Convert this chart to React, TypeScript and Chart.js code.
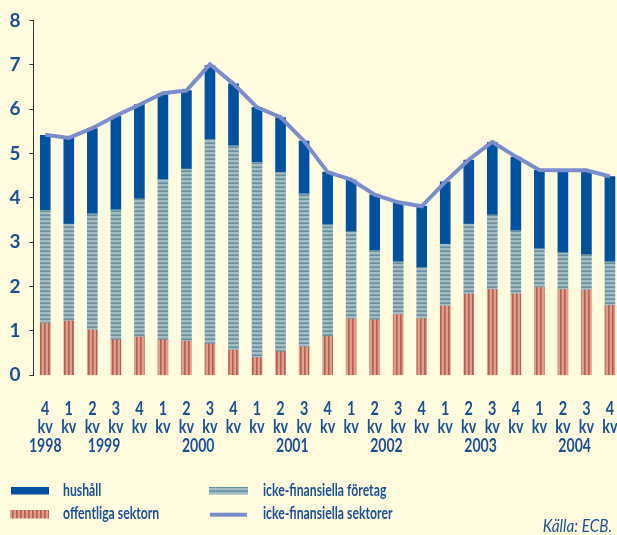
import React, { useEffect, useRef } from 'react';
import { Chart, registerables } from 'chart.js';

Chart.register(...registerables);

// ---- data ----
const quarterLabels = ['4', '1', '2', '3', '4', '1', '2', '3', '4', '1', '2', '3', '4', '1', '2', '3', '4', '1', '2', '3', '4', '1', '2', '3', '4'];
const yearOfBar = [1998, 1999, 1999, 1999, 1999, 2000, 2000, 2000, 2000, 2001, 2001, 2001, 2001, 2002, 2002, 2002, 2002, 2003, 2003, 2003, 2003, 2004, 2004, 2004, 2004];
const yearLabels = ['1998', '1999', '2000', '2001', '2002', '2003', '2004'];
const kvLabel = 'kv';
const yTicks = [0, 1, 2, 3, 4, 5, 6, 7, 8];

const offentliga = [1.17, 1.22, 1.02, 0.80, 0.86, 0.80, 0.77, 0.71, 0.57, 0.40, 0.53, 0.64, 0.87, 1.27, 1.25, 1.37, 1.28, 1.56, 1.83, 1.93, 1.83, 1.98, 1.93, 1.92, 1.58];
const foretag = [2.55, 2.19, 2.62, 2.93, 3.12, 3.62, 3.88, 4.61, 4.60, 4.40, 4.04, 3.45, 2.52, 1.97, 1.56, 1.19, 1.15, 1.39, 1.58, 1.69, 1.43, 0.87, 0.83, 0.80, 0.98];
const hushall = [1.69, 1.93, 1.92, 2.11, 2.12, 1.93, 1.77, 1.66, 1.40, 1.24, 1.24, 1.19, 1.19, 1.16, 1.26, 1.33, 1.38, 1.41, 1.44, 1.63, 1.66, 1.77, 1.83, 1.87, 1.92];
const sektorer = [5.42, 5.35, 5.57, 5.85, 6.10, 6.36, 6.42, 7.01, 6.57, 6.04, 5.82, 5.28, 4.58, 4.41, 4.07, 3.90, 3.81, 4.36, 4.86, 5.26, 4.93, 4.63, 4.62, 4.62, 4.48];

const legendLabels = ['hushåll', 'offentliga sektorn', 'icke-finansiella företag', 'icke-finansiella sektorer'];
const sourceLabel = 'Källa: ECB.';

// ---- styles ----
const BG = '#FFFCE0';
const TEXT = '#1C5096';
const BLUE = '#00519F';
const LINE = '#7B8ECB';
const FONT = 'Lato, "DejaVu Sans", sans-serif';

function makeRedPattern(): CanvasPattern | string {
  const c = document.createElement('canvas');
  c.width = 4; c.height = 4;
  const g = c.getContext('2d');
  if (!g) return '#c98070';
  const cols = ['#B85E50', '#C77566', '#DDA08E', '#DDA08E'];
  cols.forEach((col, i) => { g.fillStyle = col; g.fillRect(i, 0, 1, 4); });
  return g.createPattern(c, 'repeat') || '#c98070';
}

function makeTealPattern(): CanvasPattern | string {
  const c = document.createElement('canvas');
  c.width = 4; c.height = 4;
  const g = c.getContext('2d');
  if (!g) return '#8fb0b9';
  const cols = ['#A2BDC4', '#A2BDC4', '#7FA2AE', '#64909F'];
  cols.forEach((col, i) => { g.fillStyle = col; g.fillRect(0, i, 4, 1); });
  return g.createPattern(c, 'repeat') || '#8fb0b9';
}

function drawText(ctx: CanvasRenderingContext2D, s: string, x: number, y: number, align: CanvasTextAlign, font: string, sx: number) {
  ctx.save();
  ctx.font = font;
  ctx.fillStyle = TEXT;
  ctx.textAlign = align;
  ctx.textBaseline = 'alphabetic';
  ctx.translate(x, y);
  ctx.scale(sx, 1);
  ctx.fillText(s, 0, 0);
  ctx.restore();
}

export default function App() {
  const ref = useRef<HTMLCanvasElement | null>(null);

  useEffect(() => {
    const canvas = ref.current;
    if (!canvas) return;
    const red = makeRedPattern();
    const teal = makeTealPattern();

    const pts = (arr: number[]) => arr.map((v, i) => ({ x: i, y: v }));

    const bgPlugin = {
      id: 'bg',
      beforeDraw(chart: any) {
        const ctx = chart.ctx;
        ctx.save();
        ctx.fillStyle = BG;
        ctx.fillRect(0, 0, chart.width, chart.height);
        ctx.restore();
      },
    };

    const labelsPlugin = {
      id: 'labels',
      afterDraw(chart: any) {
        const ctx: CanvasRenderingContext2D = chart.ctx;
        const xs = chart.scales.x;
        const bold = `bold 17px ${FONT}`;
        const boldL = `bold 18px ${FONT}`;
        // quarter + kv labels
        quarterLabels.forEach((q, i) => {
          const px = xs.getPixelForValue(i);
          drawText(ctx, q, px, 415, 'center', boldL, 0.8);
          drawText(ctx, kvLabel, px, 433, 'center', boldL, 0.8);
        });
        // years
        yearLabels.forEach((y) => {
          const idx: number[] = [];
          yearOfBar.forEach((yy, i) => { if (String(yy) === y) idx.push(i); });
          if (!idx.length) return;
          const mid = idx.reduce((a, b) => a + b, 0) / idx.length;
          const px = xs.getPixelForValue(mid);
          drawText(ctx, y, px, 451.5, 'center', boldL, 0.78);
        });
        // legend
        ctx.save();
        ctx.fillStyle = BLUE;
        ctx.fillRect(11, 487, 38, 7.5);
        ctx.fillStyle = red as any;
        ctx.fillRect(10, 510, 39, 8.5);
        ctx.fillStyle = teal as any;
        ctx.fillRect(209, 487, 39, 7.5);
        ctx.fillStyle = LINE;
        ctx.fillRect(210, 512.7, 37, 4);
        ctx.restore();
        drawText(ctx, legendLabels[0], 63, 495.5, 'left', bold, 0.72);
        drawText(ctx, legendLabels[1], 63, 518.5, 'left', bold, 0.72);
        drawText(ctx, legendLabels[2], 263, 495.5, 'left', bold, 0.72);
        drawText(ctx, legendLabels[3], 263, 518.5, 'left', bold, 0.72);
        drawText(ctx, sourceLabel, 612, 532, 'right', `italic 17px ${FONT}`, 0.9);
      },
    };

    const chart = new Chart(canvas, {
      type: 'bar',
      data: {
        datasets: [
          {
            type: 'line',
            label: legendLabels[3],
            data: pts(sektorer),
            borderColor: LINE,
            borderWidth: 4,
            pointRadius: 0,
            tension: 0,
            stack: 'line',
            order: 0,
          } as any,
          {
            label: legendLabels[1],
            data: pts(offentliga),
            backgroundColor: red as any,
            barThickness: 10,
            stack: 'bars',
            order: 1,
          },
          {
            label: legendLabels[2],
            data: pts(foretag),
            backgroundColor: teal as any,
            barThickness: 10,
            stack: 'bars',
            order: 1,
          },
          {
            label: legendLabels[0],
            data: pts(hushall),
            backgroundColor: BLUE,
            barThickness: 10,
            stack: 'bars',
            order: 1,
          },
        ],
      },
      options: {
        responsive: false,
        animation: false,
        devicePixelRatio: 1,
        layout: { padding: { top: 18.7, left: 0, right: 0, bottom: 0 } },
        plugins: { legend: { display: false }, tooltip: { enabled: false } },
        scales: {
          x: {
            type: 'linear',
            min: -0.5,
            max: 24.3,
            offset: false,
            stacked: true,
            grid: { display: false, offset: false },
            border: { display: false },
            ticks: { display: false },
            afterFit: (s: any) => { s.height = 535 - 375.3; },
          },
          y: {
            type: 'linear',
            min: yTicks[0],
            max: yTicks[yTicks.length - 1],
            stacked: true,
            ticks: {
              stepSize: 1,
              color: TEXT,
              font: { family: FONT, size: 19, weight: 'bold' },
              padding: 9,
              callback: (v: any) => String(v),
            },
            grid: { drawOnChartArea: false, tickLength: 4, color: '#333333', lineWidth: 1 },
            border: { display: true, color: '#333333', width: 1 },
            afterFit: (s: any) => { s.width = 33.5; },
          },
        },
      } as any,
      plugins: [bgPlugin, labelsPlugin],
    });
    return () => chart.destroy();
  }, []);

  return (
    <div style={{ position: 'fixed', left: 0, top: 0, width: 617, height: 535, background: BG }}>
      <canvas ref={ref} width={617} height={535} style={{ position: 'absolute', left: 0, top: 0, width: 617, height: 535 }} />
    </div>
  );
}
